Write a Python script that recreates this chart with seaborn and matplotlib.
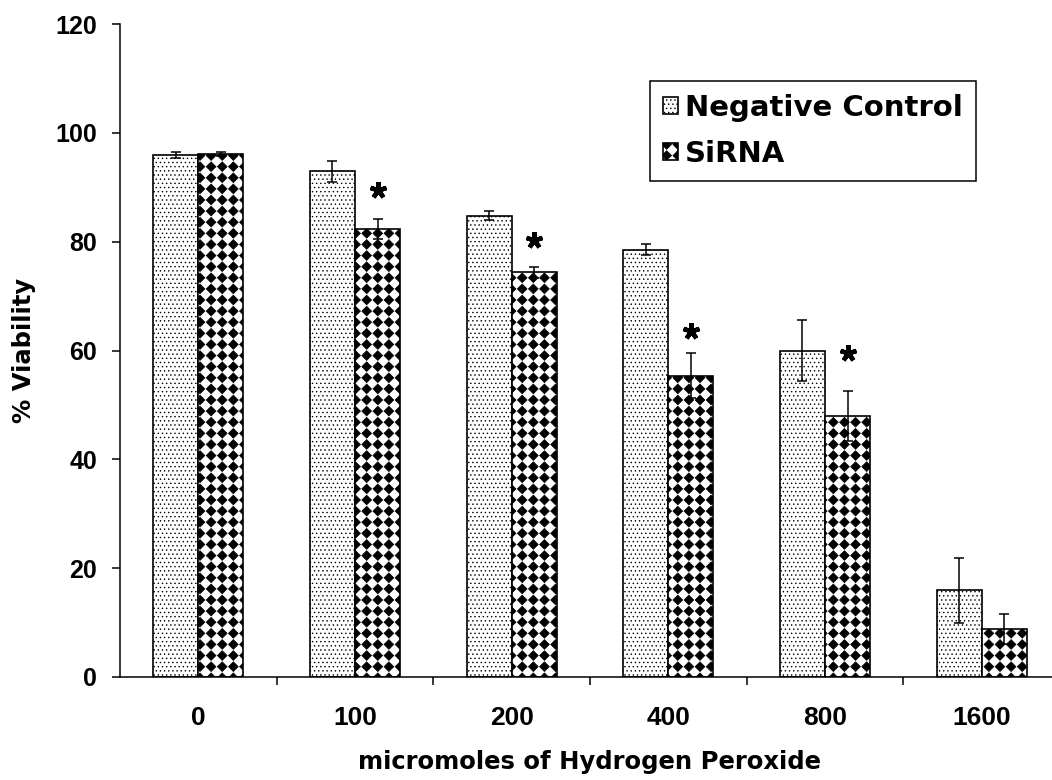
import numpy as np
import pandas as pd
import matplotlib
matplotlib.use("Agg")
import matplotlib.pyplot as plt
import matplotlib.hatch as mhatch
from matplotlib.path import Path
import seaborn as sns

# ---------------- data ----------------
doses = ["0", "100", "200", "400", "800", "1600"]
groups = ["Negative Control", "SiRNA"]
nc_values = [95.9, 92.9, 84.8, 78.5, 60.0, 15.9]
nc_errors = [0.6, 2.0, 0.8, 1.0, 5.6, 5.9]
si_values = [96.1, 82.3, 74.4, 55.4, 48.0, 8.8]
si_errors = [0.3, 1.8, 1.0, 4.1, 4.6, 2.7]
star_heights = [None, 89.5, 80.3, 63.5, 59.5, None]
y_ticks = [0, 20, 40, 60, 80, 100, 120]


# ---------------- custom diamond hatch (replaces '*' hatch) ----------------
class DiamondGrid(mhatch.HatchPatternBase):
    rows = 9
    filled = True

    def __init__(self, hatch, density):
        self.count = hatch.count("*")
        n = self.rows
        self.shape = np.array([[0., 1.], [1., 0.], [0., -1.], [-1., 0.], [0., 1.]])
        self.shape_codes = np.array([Path.MOVETO] + [Path.LINETO] * 3 + [Path.CLOSEPOLY],
                                    dtype=Path.code_type)
        self.num_vertices = (n + 1) ** 2 * 5 if self.count else 0

    def set_vertices_and_codes(self, vertices, codes):
        n = self.rows
        step = 1.0 / n
        sv = self.shape * step * 0.44
        parts = [sv + [c * step, r * step] for r in range(n + 1) for c in range(n + 1)]
        vertices[:] = np.concatenate(parts)
        codes[:] = np.tile(self.shape_codes, (n + 1) ** 2)


mhatch._hatch_types = [DiamondGrid if t is mhatch.Stars else t for t in mhatch._hatch_types]

# ---------------- style ----------------
sns.set_style("ticks")
plt.rcParams["font.family"] = ["Liberation Sans", "DejaVu Sans"]
plt.rcParams["font.weight"] = "bold"
plt.rcParams["hatch.linewidth"] = 0.5
for k in ["text.color", "axes.labelcolor", "xtick.color", "ytick.color", "axes.edgecolor"]:
    plt.rcParams[k] = "black"

fig = plt.figure(figsize=(10.52, 7.80), dpi=100)
ax = fig.add_axes([120 / 1052, 103 / 780, 940 / 1052, 653 / 780])

df = pd.DataFrame({
    "dose": doses * 2,
    "group": [groups[0]] * len(doses) + [groups[1]] * len(doses),
    "viability": nc_values + si_values,
})

sns.barplot(data=df, x="dose", y="viability", hue="group", order=doses,
            hue_order=groups, palette={groups[0]: "white", groups[1]: "white"},
            width=0.575, errorbar=None, edgecolor="black", linewidth=1.2,
            saturation=1, legend=False, ax=ax)

hatches = {groups[0]: "....", groups[1]: "*"}
for cont, g, errs in zip(ax.containers, groups, [nc_errors, si_errors]):
    for bar in cont:
        bar.set_hatch(hatches[g])
        bar.set_zorder(2)
    xs = [b.get_x() + b.get_width() / 2 for b in cont]
    ys = [b.get_height() for b in cont]
    ax.errorbar(xs, ys, yerr=errs, fmt="none", ecolor="black", elinewidth=1.1,
                capsize=3.3, capthick=1.1, zorder=3)

# significance stars above SiRNA bars
si_bars = list(ax.containers[1])
for bar, h in zip(si_bars, star_heights):
    if h is not None:
        ax.plot(bar.get_x() + bar.get_width() / 2, h, marker=(5, 2, 0), ms=12,
                mew=3.2, color="black", zorder=4)

# axes
ax.set_ylim(0, 120)
ax.set_xlim(-0.5, len(doses) - 0.5)
ax.set_yticks(y_ticks)
ax.set_yticklabels([str(t) for t in y_ticks], fontsize=18, fontweight="bold")
ax.set_xticks(range(len(doses)))
ax.set_xticklabels(doses, fontsize=19, fontweight="bold")
ax.set_xticks(np.arange(0.5, len(doses) - 0.5, 1.0), minor=True)
ax.tick_params(axis="x", which="major", length=0, pad=21)
ax.tick_params(axis="x", which="minor", length=6, width=1.1, direction="out")
ax.tick_params(axis="y", which="major", length=6, width=1.1, direction="out", pad=10.5)
sns.despine(ax=ax)
for s in ["left", "bottom"]:
    ax.spines[s].set_linewidth(1.1)
    ax.spines[s].set_color("black")

ax.set_xlabel("micromoles of Hydrogen Peroxide", fontsize=17.5, fontweight="bold",
              family=["DejaVu Sans"], labelpad=14)
ax.set_ylabel("% Viability", fontsize=17.5, fontweight="bold",
              family=["DejaVu Sans"], labelpad=14)

handles = [ax.containers[0][0], ax.containers[1][0]]
leg = ax.legend(handles, groups, loc="upper left",
                bbox_to_anchor=(650 / 1052, 1 - 81 / 780), bbox_transform=fig.transFigure,
                borderaxespad=0, frameon=True, fancybox=False, framealpha=1,
                edgecolor="black", handlelength=0.5, handleheight=0.5,
                handletextpad=0.25, labelspacing=0.6, borderpad=0.45,
                prop={"family": "DejaVu Sans", "weight": "bold", "size": 21})
leg.get_frame().set_linewidth(1.1)

fig.savefig("out.png", dpi=100)
